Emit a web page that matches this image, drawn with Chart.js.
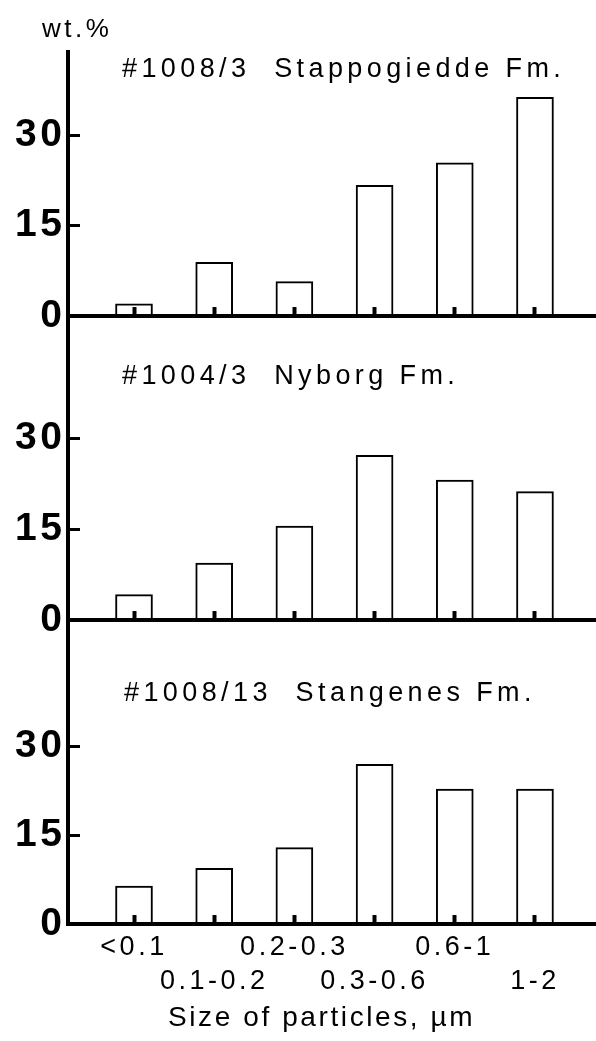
<!DOCTYPE html>
<html>
<head>
<meta charset="utf-8">
<title>Clay particle size distribution</title>
<script src="https://cdn.jsdelivr.net/npm/chart.js@4.4.1/dist/chart.umd.min.js"></script>
<style>
  html, body { margin: 0; padding: 0; background: #fff; }
  #wrap { position: relative; width: 596px; height: 1041px; }
  #wrap canvas { position: absolute; left: 0; top: 0; }
</style>
</head>
<body>
<div id="wrap">
  <canvas id="panel1" width="596" height="1041"></canvas>
  <canvas id="panel2" width="596" height="1041"></canvas>
  <canvas id="panel3" width="596" height="1041"></canvas>
</div>
<script>
// Particle size classes (µm)
const sizeClasses = ['<0.1', '0.1-0.2', '0.2-0.3', '0.3-0.6', '0.6-1', '1-2'];

// Weight percent per size class for each sample
const stappogiedde = [2.0, 8.9, 5.7, 21.7, 25.4, 36.3];
const nyborg       = [4.2, 9.4, 15.5, 27.2, 23.1, 21.2];
const stangenes    = [6.4, 9.4, 12.9, 27.0, 22.8, 22.8];

// Labelled y ticks
const yTickValues = [0, 15, 30];

// Text
const sampleTitles = ['#1008/3  Stappogiedde Fm.', '#1004/3  Nyborg Fm.', '#1008/13  Stangenes Fm.'];
const yUnitLabel = 'wt.%';
const xAxisTitle = 'Size of particles, \u00b5m';

// ---- layout ----
const CANVAS_H = 1041;
const AXIS_X = 68;
const X_MIN = 0.177, X_MAX = 6.761;

const panels = [
  { id: 'panel1', values: stappogiedde, title: sampleTitles[0], top: 52,  bottom: 316, yMax: 43.8, titleX: 122, titleBase: 77,  showX: false },
  { id: 'panel2', values: nyborg,       title: sampleTitles[1], top: 316, bottom: 620, yMax: 50.2, titleX: 122, titleBase: 384, showX: false },
  { id: 'panel3', values: stangenes,    title: sampleTitles[2], top: 620, bottom: 924, yMax: 51.4, titleX: 124, titleBase: 701, showX: true  }
];

const FONT = "'Liberation Sans', Arial, Helvetica, sans-serif";

// Spread text a little, like the typeset figure
const spacingPlugin = {
  id: 'spacing',
  beforeDraw(chart) { chart.ctx.letterSpacing = '3.5px'; }
};

// Panel captions and axis captions
const captionPlugin = {
  id: 'captions',
  afterDraw(chart, args, opts) {
    const ctx = chart.ctx;
    ctx.save();
    ctx.fillStyle = '#000';
    ctx.textBaseline = 'alphabetic';
    ctx.textAlign = 'left';
    for (const t of opts.items || []) {
      ctx.font = t.font;
      ctx.letterSpacing = t.spacing;
      ctx.fillText(t.text, t.x, t.y);
    }
    ctx.restore();
  }
};

panels.forEach((p, idx) => {
  const captions = [
    { text: p.title, x: p.titleX, y: p.titleBase, font: '27px ' + FONT, spacing: '4.4px' }
  ];
  if (idx === 0) captions.push({ text: yUnitLabel, x: 42, y: 37, font: '26px ' + FONT, spacing: '3.5px' });
  if (p.showX) captions.push({ text: xAxisTitle, x: 168, y: 1026, font: '28px ' + FONT, spacing: '2.6px' });

  new Chart(document.getElementById(p.id), {
    type: 'bar',
    data: {
      datasets: [{
        data: p.values.map((v, i) => ({ x: i + 1, y: v })),
        backgroundColor: '#fff',
        borderColor: '#000',
        borderWidth: 2,
        borderSkipped: 'bottom',
        barThickness: 37
      }]
    },
    options: {
      responsive: false,
      animation: false,
      devicePixelRatio: 1,
      events: [],
      layout: { padding: { top: p.top, bottom: 0, left: 0, right: 0 } },
      plugins: {
        legend: { display: false },
        tooltip: { enabled: false },
        title: { display: false },
        captions: { items: captions }
      },
      scales: {
        // baseline with the small class marks
        x: {
          type: 'linear',
          position: 'bottom',
          weight: 0,
          min: X_MIN,
          max: X_MAX,
          offset: false,
          afterFit(scale) { scale.height = 0; },
          afterBuildTicks(scale) { scale.ticks = sizeClasses.map((_, i) => ({ value: i + 1 })); },
          border: { display: true, color: '#000', width: 4, z: 1 },
          grid: {
            display: true,
            offset: false,
            z: 1,
            drawOnChartArea: false,
            drawTicks: true,
            tickLength: -9,
            tickWidth: 4,
            tickColor: '#000'
          },
          ticks: { display: false }
        },
        // class names, two staggered rows
        xLabels: {
          type: 'linear',
          position: 'bottom',
          axis: 'x',
          weight: 1,
          min: X_MIN,
          max: X_MAX,
          offset: false,
          display: p.showX,
          afterFit(scale) { scale.height = CANVAS_H - p.bottom; },
          afterBuildTicks(scale) { scale.ticks = sizeClasses.map((_, i) => ({ value: i + 1 })); },
          border: { display: false },
          grid: { display: false, drawTicks: false, drawOnChartArea: false },
          ticks: {
            autoSkip: false,
            maxRotation: 0,
            minRotation: 0,
            padding: 7,
            color: '#000',
            font: { family: FONT, size: 27, lineHeight: 1.24 },
            callback(value, index) {
              const lab = sizeClasses[index];
              return index % 2 === 0 ? lab : ['', lab];
            }
          }
        },
        y: {
          min: 0,
          max: p.yMax,
          afterFit(scale) { scale.width = AXIS_X; },
          afterBuildTicks(scale) { scale.ticks = yTickValues.map(v => ({ value: v })); },
          border: { display: true, color: '#000', width: 4, z: 1 },
          grid: {
            display: true,
            drawOnChartArea: false,
            drawTicks: true,
            tickLength: -12,
            tickWidth: 3,
            tickColor: '#000'
          },
          ticks: {
            padding: 14.5,
            color: '#000',
            font: { family: FONT, size: 39, weight: 'bold' },
            callback(value) { return String(value); }
          }
        }
      }
    },
    plugins: [spacingPlugin, captionPlugin]
  });
});
</script>
</body>
</html>
